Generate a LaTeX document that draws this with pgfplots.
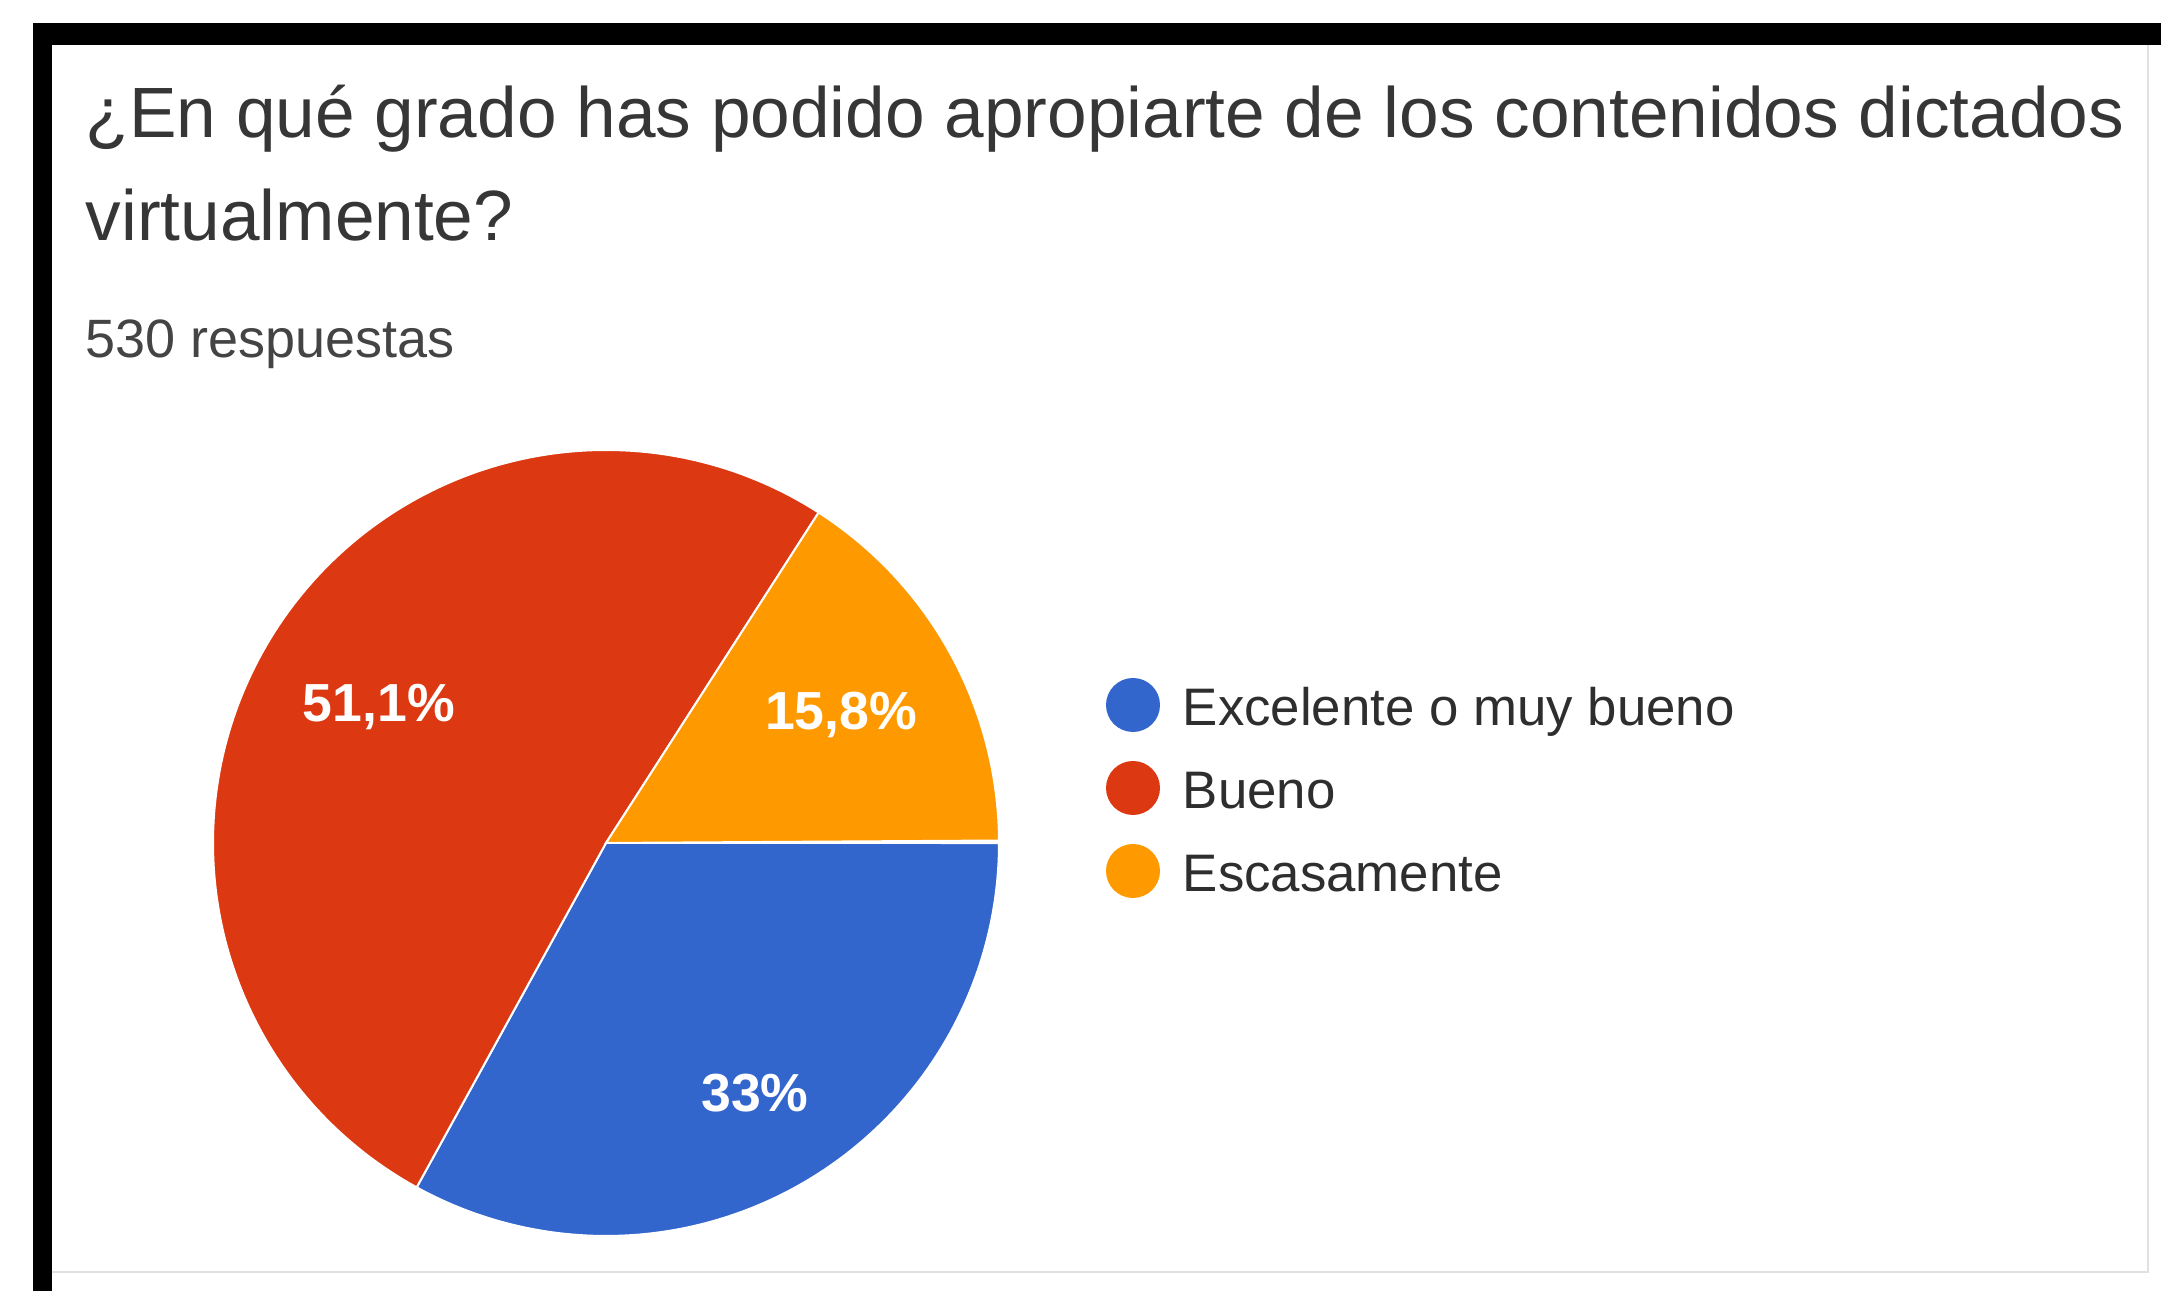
\documentclass[border=0pt]{standalone}
\usepackage{pgfplots}
\pgfplotsset{compat=1.18}
\usepackage{fontspec}
\setmainfont{Liberation Sans}

\definecolor{gblue}{HTML}{3366CC}
\definecolor{gred}{HTML}{DC3912}
\definecolor{gorange}{HTML}{FF9900}
\definecolor{titlegray}{HTML}{363636}
\definecolor{subgray}{HTML}{444444}
\definecolor{leggray}{HTML}{2E2E2E}

% shares in percent
\def\shareA{33}   % Excelente o muy bueno
\def\shareB{51.1} % Bueno
\def\shareC{15.8} % Escasamente
\pgfmathsetmacro{\angA}{-3.6*\shareA}
\pgfmathsetmacro{\angB}{\angA-3.6*\shareB}
\pgfmathsetmacro{\angC}{\angB-3.6*\shareC}

\begin{document}
\begin{tikzpicture}[x=0.25pt,y=0.25pt]
\useasboundingbox (0,0) rectangle (2161,1291);
\fill[white] (0,0) rectangle (2161,1291);
% frame
\fill[black] (33,1246) rectangle (2161,1268);
\fill[black] (33,0) rectangle (52,1268);
\draw[black!12, line width=0.5pt] (2148,1246) -- (2148,19) -- (52,19);

% titles
\node[anchor=base west, inner sep=0pt, text=titlegray, font=\fontsize{17.8}{20}\selectfont] at (85,1153)
  {¿En qué grado has podido apropiarte de los contenidos dictados};
\node[anchor=base west, inner sep=0pt, text=titlegray, font=\fontsize{17.8}{20}\selectfont] at (85,1050)
  {virtualmente?};
\node[anchor=base west, inner sep=0pt, text=subgray, font=\fontsize{13.5}{16}\selectfont] at (85,933)
  {530 respuestas};

% pie
\coordinate (pc) at (606,448);
\begin{axis}[
  at={(pc)}, anchor=center,
  width=196.5pt, height=196.5pt, scale only axis,
  xmin=-1, xmax=1, ymin=-1, ymax=1,
  hide axis, clip=false,
]
\addplot[fill=gblue, draw=white, line width=0.5pt, domain=\angA:0, samples=120, variable=\t]
  ({cos(\t)},{sin(\t)}) -- (axis cs:0,0) -- cycle;
\addplot[fill=gred, draw=white, line width=0.5pt, domain=\angB:\angA, samples=160, variable=\t]
  ({cos(\t)},{sin(\t)}) -- (axis cs:0,0) -- cycle;
\addplot[fill=gorange, draw=white, line width=0.5pt, domain=\angC:\angB, samples=60, variable=\t]
  ({cos(\t)},{sin(\t)}) -- (axis cs:0,0) -- cycle;
\node[text=white, font=\bfseries\fontsize{13.4}{15}\selectfont] at (axis cs:-0.578,0.346) {51,1\%};
\node[text=white, font=\bfseries\fontsize{13.4}{15}\selectfont] at (axis cs:0.598,0.326) {15,8\%};
\node[text=white, font=\bfseries\fontsize{13.4}{15}\selectfont] at (axis cs:0.379,-0.636) {33\%};
\end{axis}

% legend
\fill[gblue] (1133,586) circle[radius=27];
\fill[gred] (1133,503) circle[radius=27];
\fill[gorange] (1133,420) circle[radius=27];
\node[anchor=base west, inner sep=0pt, text=leggray, font=\fontsize{13.2}{15}\selectfont] at (1182,565) {Excelente o muy bueno};
\node[anchor=base west, inner sep=0pt, text=leggray, font=\fontsize{13.2}{15}\selectfont] at (1182,482) {Bueno};
\node[anchor=base west, inner sep=0pt, text=leggray, font=\fontsize{13.2}{15}\selectfont] at (1182,399) {Escasamente};
\end{tikzpicture}
\end{document}
